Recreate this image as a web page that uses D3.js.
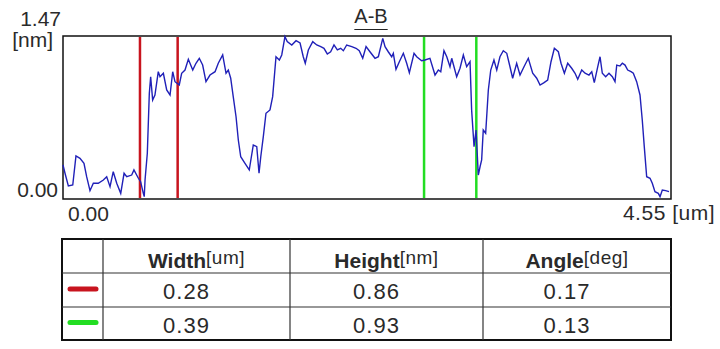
<!DOCTYPE html>
<html>
<head>
<meta charset="UTF-8">
<title>A-B profile</title>
<script src="https://d3js.org/d3.v7.min.js"></script>
<style>
  body { margin: 0; background: #fff; }
  text { font-family: "Liberation Sans", Arial, sans-serif; fill: #2a2a2a; }
</style>
</head>
<body>
<svg width="720" height="349"></svg>
<script>
// profile along A-B: position [um] and height [nm]
var posUm = [0.000,0.015,0.040,0.073,0.097,0.127,0.157,0.177,0.202,0.227,0.264,0.302,0.327,0.352,0.376,0.402,0.432,0.457,0.477,0.514,
  0.531,0.564,0.581,0.601,0.608,0.614,0.631,0.646,0.656,0.671,0.688,0.713,0.726,0.751,0.776,0.801,0.821,0.838,0.870,0.888,
  0.913,0.938,0.971,0.995,1.020,1.045,1.070,1.100,1.138,1.162,1.195,1.220,1.237,1.255,1.274,1.295,1.312,1.330,1.362,1.394,
  1.424,1.450,1.467,1.480,1.499,1.519,1.549,1.569,1.594,1.619,1.637,1.661,1.678,1.712,1.744,1.774,1.798,1.813,1.836,1.869,
  1.899,1.929,1.953,1.978,2.003,2.028,2.053,2.078,2.098,2.123,2.161,2.193,2.217,2.243,2.268,2.297,2.335,2.360,2.393,2.410,
  2.434,2.460,2.472,2.492,2.517,2.547,2.572,2.592,2.627,2.647,2.684,2.709,2.746,2.784,2.809,2.827,2.851,2.872,2.896,2.909,
  2.946,2.971,2.996,3.021,3.046,3.058,3.076,3.091,3.108,3.121,3.133,3.145,3.163,3.183,3.201,3.225,3.246,3.270,3.295,3.321,
  3.345,3.365,3.395,3.420,3.450,3.482,3.515,3.545,3.570,3.600,3.627,3.652,3.677,3.707,3.727,3.752,3.777,3.807,3.832,3.852,
  3.882,3.907,3.936,3.957,3.976,4.002,4.019,4.036,4.061,4.086,4.111,4.131,4.144,4.168,4.186,4.206,4.226,4.251,4.268,4.293,
  4.318,4.335,4.350,4.368,4.393,4.410,4.430,4.455,4.468,4.485,4.510,4.535];
var heightNm = [0.307,0.232,0.117,0.126,0.388,0.367,0.322,0.201,0.075,0.142,0.142,0.171,0.201,0.111,0.246,0.142,0.051,0.232,0.201,0.216,
  0.262,0.187,0.156,0.051,0.021,0.171,0.412,0.953,1.103,0.893,0.938,1.148,1.103,1.134,0.983,0.938,1.148,1.058,1.028,1.134,
  1.163,1.260,1.163,1.224,1.269,1.208,1.058,1.118,1.148,1.224,1.299,1.134,1.163,1.089,0.923,0.742,0.532,0.381,0.322,0.262,
  0.487,0.472,0.232,0.381,0.562,0.773,0.803,0.923,1.283,1.254,1.299,1.464,1.419,1.389,1.428,1.407,1.283,1.224,1.344,1.419,
  1.389,1.374,1.359,1.308,1.328,1.389,1.344,1.359,1.337,1.389,1.374,1.359,1.337,1.269,1.374,1.328,1.269,1.283,1.449,1.374,
  1.328,1.283,1.314,1.170,1.238,1.314,1.224,1.139,1.314,1.283,1.247,1.254,1.269,1.118,1.163,1.148,1.337,1.283,1.193,1.269,
  1.103,1.179,1.299,1.193,1.238,0.803,0.472,0.622,0.216,0.291,0.352,0.622,0.593,0.983,1.163,1.254,1.163,1.283,1.337,1.314,
  1.193,1.089,1.224,1.118,1.193,1.269,1.134,1.089,1.028,1.049,1.073,1.238,1.359,1.328,1.224,1.134,1.224,1.179,1.134,1.080,
  1.163,1.134,1.118,1.148,1.049,1.193,1.283,1.134,1.103,1.134,1.103,1.058,1.208,1.199,1.224,1.208,1.163,1.148,1.134,1.058,
  0.938,0.712,0.472,0.201,0.187,0.142,0.066,0.051,0.021,0.081,0.075,0.066];

// cursor pairs
var cursorColors = ["#c8141e", "#22dd22"];
var cursorPos = [[0.576, 0.858], [2.702, 3.093]];

// measurement table
var tableHeads = ["Width", "Height", "Angle"];
var tableUnits = ["[um]", "[nm]", "[deg]"];
var tableRows = [["0.28", "0.86", "0.17"], ["0.39", "0.93", "0.13"]];

var xMax = 4.55, yMax = 1.47;

var svg = d3.select("svg"),
    plot = {left: 63, top: 36, right: 671, bottom: 199};

var x = d3.scaleLinear().domain([0, xMax]).range([plot.left, plot.right]),
    y = d3.scaleLinear().domain([0, yMax]).range([plot.bottom, plot.top]);

var data = posUm.map(function(p, i) { return [p, heightNm[i]]; });

// frame
svg.append("rect")
    .attr("x", plot.left).attr("y", plot.top)
    .attr("width", plot.right - plot.left).attr("height", plot.bottom - plot.top)
    .attr("fill", "#fff").attr("stroke", "#111").attr("stroke-width", 1.5);

// cursors
cursorPos.forEach(function(pair, k) {
    svg.selectAll(".cur" + k).data(pair).enter().append("line")
        .attr("x1", function(d) { return x(d); }).attr("x2", function(d) { return x(d); })
        .attr("y1", plot.top + 1).attr("y2", plot.bottom - 1)
        .attr("stroke", cursorColors[k]).attr("stroke-width", 2.5);
});

var line = d3.line()
    .x(function(d) { return x(d[0]); })
    .y(function(d) { return y(d[1]); });

svg.append("path")
    .datum(data)
    .attr("fill", "none")
    .attr("stroke", "#2020b8")
    .attr("stroke-width", 1.4)
    .attr("d", line);

// title
var title = svg.append("text")
    .attr("x", 371).attr("y", 23)
    .attr("text-anchor", "middle")
    .attr("font-size", 20)
    .text("A-B");
var tw = title.node().getComputedTextLength();
svg.append("line")
    .attr("x1", 371 - tw / 2).attr("x2", 371 + tw / 2)
    .attr("y1", 29.5).attr("y2", 29.5)
    .attr("stroke", "#222").attr("stroke-width", 1);

// axis end labels
var fs = 21;
svg.append("text").attr("x", 61).attr("y", y(yMax) - 10).attr("text-anchor", "end")
    .attr("font-size", fs).text(d3.format(".2f")(yMax));
svg.append("text").attr("x", 53).attr("y", y(yMax) + 11).attr("text-anchor", "end")
    .attr("font-size", fs).text("[nm]");
svg.append("text").attr("x", 58).attr("y", y(0) - 2).attr("text-anchor", "end")
    .attr("font-size", fs).text(d3.format(".2f")(0));
svg.append("text").attr("x", x(0) + 5).attr("y", plot.bottom + 22)
    .attr("font-size", fs).text(d3.format(".2f")(0));
svg.append("text").attr("x", 715).attr("y", plot.bottom + 21).attr("text-anchor", "end")
    .attr("font-size", fs).attr("letter-spacing", 0.5)
    .text(d3.format(".2f")(xMax) + " [um]");

// table
var colX = [62, 103, 290, 483, 671],
    rowY = [239, 273, 307, 340];

var tbl = svg.append("g");
tbl.append("rect")
    .attr("x", colX[0]).attr("y", rowY[0])
    .attr("width", colX[4] - colX[0]).attr("height", rowY[3] - rowY[0])
    .attr("fill", "none").attr("stroke", "#111").attr("stroke-width", 2);
tbl.selectAll(".vl").data(colX.slice(1, 4)).enter().append("line")
    .attr("x1", function(d) { return d; }).attr("x2", function(d) { return d; })
    .attr("y1", rowY[0]).attr("y2", rowY[3])
    .attr("stroke", "#333").attr("stroke-width", 1.2);
tbl.selectAll(".hl").data(rowY.slice(1, 3)).enter().append("line")
    .attr("x1", colX[0]).attr("x2", colX[4])
    .attr("y1", function(d) { return d; }).attr("y2", function(d) { return d; })
    .attr("stroke", "#333").attr("stroke-width", 1.2);

tableHeads.forEach(function(h, i) {
    var cx = (colX[i + 1] + colX[i + 2]) / 2;
    var t = tbl.append("text")
        .attr("x", cx).attr("y", 268).attr("text-anchor", "middle")
        .attr("font-size", 21);
    t.append("tspan").attr("font-weight", "bold").text(h);
    t.append("tspan").attr("font-size", 19).attr("dy", -4).attr("letter-spacing", 0.5).text(tableUnits[i]);
});

tableRows.forEach(function(r, j) {
    var cy = (rowY[j + 1] + rowY[j + 2]) / 2;
    tbl.append("line")
        .attr("x1", 70).attr("x2", 96)
        .attr("y1", cy - 1).attr("y2", cy - 1)
        .attr("stroke", cursorColors[j]).attr("stroke-width", 5)
        .attr("stroke-linecap", "round");
    r.forEach(function(v, i) {
        tbl.append("text")
            .attr("x", (colX[i + 1] + colX[i + 2]) / 2 - 10)
            .attr("y", cy + 9).attr("text-anchor", "middle")
            .attr("font-size", 22).attr("letter-spacing", 1).text(v);
    });
});
</script>
</body>
</html>
